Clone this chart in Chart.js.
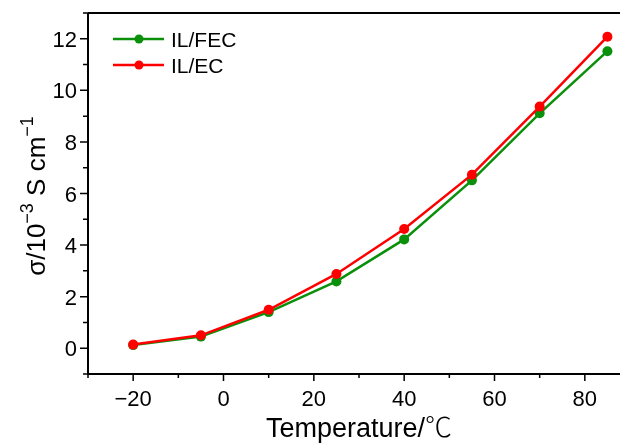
<!DOCTYPE html>
<html>
<head>
<meta charset="utf-8">
<script src="https://cdn.jsdelivr.net/npm/chart.js@4.4.1/dist/chart.umd.min.js"></script>
<style>
  html, body { margin: 0; padding: 0; background: #fff; overflow: hidden; width: 620px; height: 443px; }
  canvas { display: block; }
</style>
</head>
<body>
<canvas id="chart" width="640" height="443"></canvas>
<script>
// data
const temps  = [-20, -5, 10, 25, 40, 55, 70, 85];
const ilFec  = [0.12, 0.45, 1.40, 2.59, 4.22, 6.51, 9.11, 11.52];
const ilEc   = [0.14, 0.50, 1.49, 2.88, 4.62, 6.73, 9.37, 12.08];
const seriesNames = ['IL/FEC', 'IL/EC'];
const xMajor = [-20, 0, 20, 40, 60, 80];
const xMinor = [-30, -10, 10, 30, 50, 70];
const yMajor = [0, 2, 4, 6, 8, 10, 12];
const yMinor = [-1, 1, 3, 5, 7, 9, 11, 13];

const GREEN = '#0a900a';
const RED   = '#ff0000';
const FONT  = '"Liberation Sans", Arial, sans-serif';

const toPoints = ys => temps.map((t, i) => ({ x: t, y: ys[i] }));

const axesPlugin = {
    id: 'originAxes',
    afterDraw(chart) {
        const { ctx, chartArea: a, scales: { x, y } } = chart;
        ctx.save();
        ctx.strokeStyle = '#000';
        ctx.fillStyle = '#000';
        ctx.lineWidth = 2;

        // spines (left, bottom, top)
        ctx.beginPath();
        ctx.moveTo(a.left, a.top); ctx.lineTo(a.left, a.bottom); ctx.lineTo(a.right, a.bottom);
        ctx.moveTo(a.left, a.top); ctx.lineTo(a.right, a.top);
        ctx.stroke();

        // ticks
        ctx.lineWidth = 1.5;
        ctx.beginPath();
        xMajor.forEach(v => { const px = x.getPixelForValue(v); ctx.moveTo(px, a.bottom); ctx.lineTo(px, a.bottom + 7); });
        xMinor.forEach(v => { const px = x.getPixelForValue(v); ctx.moveTo(px, a.bottom); ctx.lineTo(px, a.bottom + 4); });
        yMajor.forEach(v => { const py = y.getPixelForValue(v); ctx.moveTo(a.left, py); ctx.lineTo(a.left - 8, py); });
        yMinor.forEach(v => { const py = y.getPixelForValue(v); ctx.moveTo(a.left, py); ctx.lineTo(a.left - 5, py); });
        ctx.stroke();

        // tick labels
        ctx.font = `22px ${FONT}`;
        ctx.textAlign = 'center';
        ctx.textBaseline = 'alphabetic';
        xMajor.forEach(v => ctx.fillText(String(v).replace('-', '\u2212'), x.getPixelForValue(v), a.bottom + 32));
        ctx.textAlign = 'right';
        yMajor.forEach(v => ctx.fillText(String(v), a.left - 11, y.getPixelForValue(v) + 8));

        // x title: latin part + degree sign in a CJK face
        ctx.textAlign = 'left';
        const xt1 = 'Temperature/', xt2 = '\u2103';
        ctx.font = `27px ${FONT}`;
        const w1 = ctx.measureText(xt1).width;
        ctx.font = '27px "Noto Sans CJK SC", sans-serif';
        const w2 = ctx.measureText(xt2).width;
        const xs = (a.left + 630) / 2 - (w1 + w2) / 2;
        ctx.font = `27px ${FONT}`;
        ctx.fillText(xt1, xs, a.bottom + 63);
        ctx.font = '300 27px "Noto Sans CJK SC", sans-serif';
        ctx.fillText(xt2, xs + w1, a.bottom + 63);

        // y title with superscripts
        const parts = [
            { t: '\u03c3/10', sup: false },
            { t: '\u22123', sup: true },
            { t: ' S cm', sup: false },
            { t: '\u22121', sup: true }
        ];
        const mainFont = `26px ${FONT}`, supFont = `18px ${FONT}`;
        let total = 0;
        parts.forEach(p => { ctx.font = p.sup ? supFont : mainFont; p.w = ctx.measureText(p.t).width; total += p.w; });
        ctx.translate(45, 196);
        ctx.rotate(-Math.PI / 2);
        let cx = -total / 2;
        parts.forEach(p => {
            ctx.font = p.sup ? supFont : mainFont;
            ctx.fillText(p.t, cx, p.sup ? -12 : 0);
            cx += p.w;
        });
        ctx.restore();

        // legend
        ctx.save();
        const colors = [GREEN, RED];
        ctx.font = `21px ${FONT}`;
        ctx.textAlign = 'left';
        seriesNames.forEach((name, i) => {
            const ly = 39 + i * 26;
            ctx.strokeStyle = colors[i];
            ctx.fillStyle = colors[i];
            ctx.lineWidth = 2.5;
            ctx.beginPath(); ctx.moveTo(113, ly); ctx.lineTo(164, ly); ctx.stroke();
            ctx.beginPath(); ctx.arc(139, ly, 4.5, 0, Math.PI * 2); ctx.fill();
            ctx.fillStyle = '#000';
            ctx.fillText(name, 171, ly + 8);
        });
        ctx.restore();
    }
};

new Chart(document.getElementById('chart'), {
    type: 'line',
    data: {
        datasets: [{
            label: seriesNames[0],
            data: toPoints(ilFec),
            borderColor: GREEN, backgroundColor: GREEN,
            borderWidth: 2.5, pointRadius: 5, pointBorderWidth: 0,
            tension: 0, order: 2
        }, {
            label: seriesNames[1],
            data: toPoints(ilEc),
            borderColor: RED, backgroundColor: RED,
            borderWidth: 2.5, pointRadius: 5, pointBorderWidth: 0,
            tension: 0, order: 1
        }]
    },
    options: {
        responsive: false,
        animation: false,
        devicePixelRatio: 1,
        layout: { padding: { left: 88, top: 13, right: 10, bottom: 69 } },
        plugins: { legend: { display: false }, tooltip: { enabled: false } },
        scales: {
            x: { type: 'linear', min: -30, max: 90, display: false },
            y: { type: 'linear', min: -1, max: 13, display: false }
        }
    },
    plugins: [axesPlugin]
});
</script>
</body>
</html>
